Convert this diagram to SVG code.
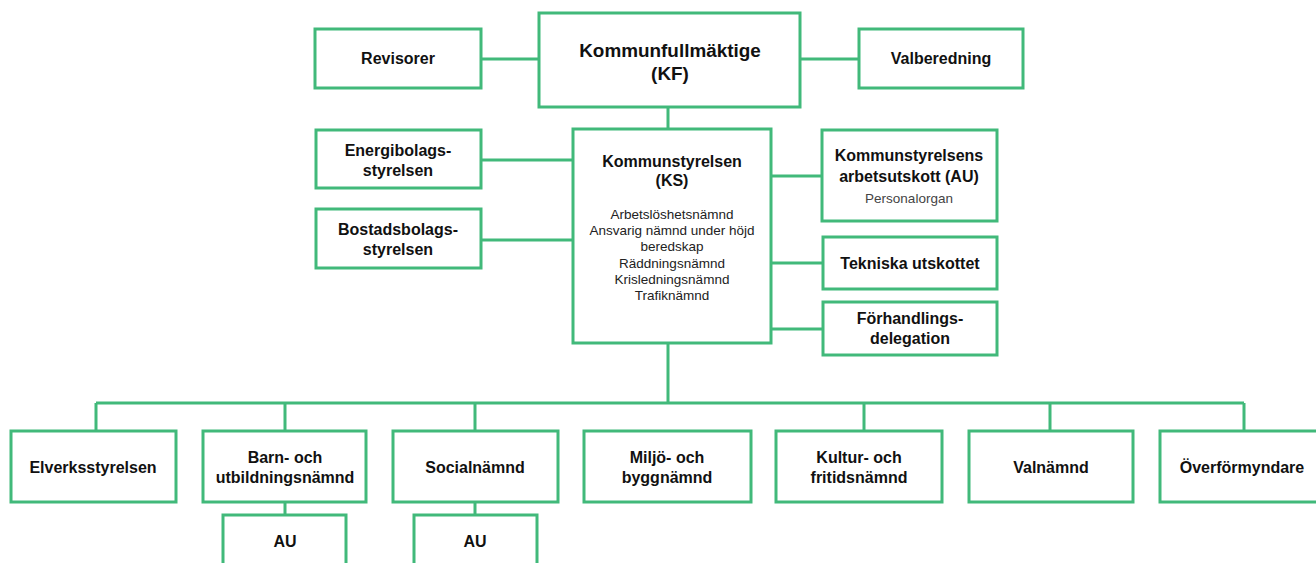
<svg xmlns="http://www.w3.org/2000/svg" width="1316" height="563" viewBox="0 0 1316 563">
<style>
.box{fill:#fff;stroke:#41b97a;stroke-width:3}
.ln{fill:none;stroke:#41b97a;stroke-width:3}
text{font-family:"Liberation Sans",Arial,sans-serif;text-anchor:middle;fill:#111}
.b{font-weight:bold;font-size:16px}
.big{font-weight:bold;font-size:18.9px}
.s{font-size:13.5px;fill:#222}
.g{font-size:13.5px;fill:#444}
</style>
<rect width="1316" height="563" fill="#fff"/>
<g id="connectors">
<path class="ln" d="M481 59H539M800 59H859M668 107V129M481 160H573M481 240H573M771 176H822M771 263H823M771 329H823M668 343V403M96 403H1244M96 403V431M285 403V431M475 403V431M864 403V431M1050 403V431M1244 403V431M285 502V515M475 502V515"/>
</g>
<g id="kf"><rect class="box" x="539" y="13" width="261" height="94"/><text class="big" x="670" y="57">Kommunfullmäktige</text><text class="big" x="670" y="80">(KF)</text></g>
<g id="revisorer"><rect class="box" x="315" y="29" width="166" height="59"/><text class="b" x="398" y="64">Revisorer</text></g>
<g id="valberedning"><rect class="box" x="859" y="29" width="164" height="59"/><text class="b" x="941" y="64">Valberedning</text></g>
<g id="ks"><rect class="box" x="573" y="129" width="198" height="214"/><text class="b" x="672" y="167">Kommunstyrelsen</text><text class="b" x="672" y="186">(KS)</text>
<text class="s" x="672" y="219">Arbetslöshetsnämnd</text><text class="s" x="672" y="235">Ansvarig nämnd under höjd</text><text class="s" x="672" y="251">beredskap</text><text class="s" x="672" y="268">Räddningsnämnd</text><text class="s" x="672" y="284">Krisledningsnämnd</text><text class="s" x="672" y="300">Trafiknämnd</text></g>
<g id="energi"><rect class="box" x="316" y="130" width="165" height="58"/><text class="b" x="398" y="156">Energibolags-</text><text class="b" x="398" y="176">styrelsen</text></g>
<g id="bostad"><rect class="box" x="316" y="209" width="165" height="59"/><text class="b" x="398" y="235">Bostadsbolags-</text><text class="b" x="398" y="255">styrelsen</text></g>
<g id="ksau"><rect class="box" x="822" y="130" width="175" height="91"/><text class="b" x="909" y="161">Kommunstyrelsens</text><text class="b" x="909" y="182">arbetsutskott (AU)</text><text class="g" x="909" y="203">Personalorgan</text></g>
<g id="tekniska"><rect class="box" x="823" y="237" width="174" height="52"/><text class="b" x="910" y="269">Tekniska utskottet</text></g>
<g id="forhandling"><rect class="box" x="823" y="302" width="174" height="53"/><text class="b" x="910" y="324">Förhandlings-</text><text class="b" x="910" y="344">delegation</text></g>
<g id="elverk"><rect class="box" x="11" y="431" width="165" height="71"/><text class="b" x="93" y="473">Elverksstyrelsen</text></g>
<g id="barn"><rect class="box" x="203" y="431" width="163" height="71"/><text class="b" x="285" y="463">Barn- och</text><text class="b" x="285" y="483">utbildningsnämnd</text></g>
<g id="social"><rect class="box" x="393" y="431" width="165" height="71"/><text class="b" x="475" y="473">Socialnämnd</text></g>
<g id="miljo"><rect class="box" x="584" y="431" width="167" height="71"/><text class="b" x="667" y="463">Miljö- och</text><text class="b" x="667" y="483">byggnämnd</text></g>
<g id="kultur"><rect class="box" x="776" y="431" width="166" height="71"/><text class="b" x="859" y="463">Kultur- och</text><text class="b" x="859" y="483">fritidsnämnd</text></g>
<g id="valnamnd"><rect class="box" x="969" y="431" width="164" height="71"/><text class="b" x="1051" y="473">Valnämnd</text></g>
<g id="overformyndare"><rect class="box" x="1160" y="431" width="170" height="71"/><text class="b" x="1242" y="473">Överförmyndare</text></g>
<g id="barn-au"><rect class="box" x="223" y="515" width="123" height="70"/><text class="b" x="285" y="547">AU</text></g>
<g id="social-au"><rect class="box" x="414" y="515" width="123" height="70"/><text class="b" x="475" y="547">AU</text></g>
</svg>
